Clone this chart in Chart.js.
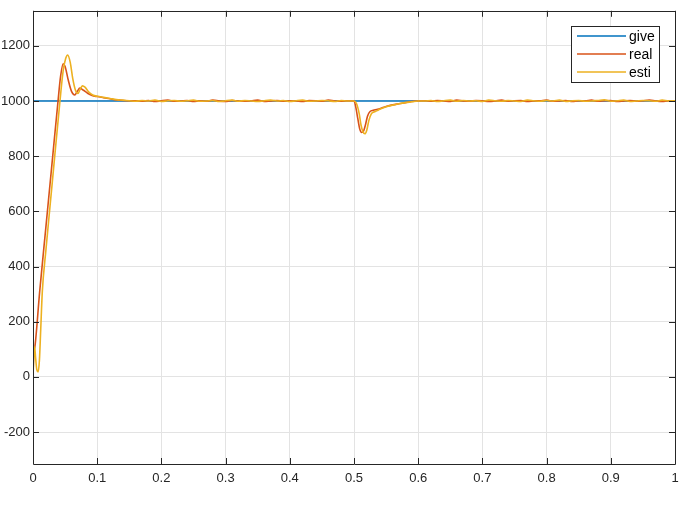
<!DOCTYPE html>
<html>
<head>
<meta charset="utf-8">
<script src="https://cdn.jsdelivr.net/npm/chart.js@4/dist/chart.umd.min.js"></script>
<style>
  html, body { margin: 0; padding: 0; background: #fff; }
  #wrap { width: 692px; height: 509px; }
</style>
</head>
<body>
<div id="wrap"><canvas id="grafico" width="692" height="509"></canvas></div>
<script>
// Dados (tempo em s, velocidade)
const giveT = [0, 1];
const giveY = [1000, 1000];

// partida
const realRiseT = [0, 0.001, 0.003, 0.0104, 0.02, 0.03, 0.039, 0.043, 0.047, 0.05, 0.055, 0.06, 0.065, 0.069, 0.073, 0.078, 0.085, 0.092, 0.1, 0.11, 0.12, 0.13, 0.14, 0.15];
const realRiseY = [0, 80, 110, 309, 541, 783, 1000, 1090, 1135, 1125, 1075, 1035, 1022, 1035, 1047, 1040, 1028, 1020, 1016, 1012, 1008, 1004, 1002, 1001];
const estiRiseT = [0, 0.001, 0.0025, 0.004, 0.006, 0.008, 0.01, 0.012, 0.0145, 0.02, 0.03, 0.042, 0.047, 0.051, 0.054, 0.058, 0.062, 0.066, 0.07, 0.073, 0.077, 0.081, 0.087, 0.093, 0.1, 0.11, 0.12, 0.13, 0.14, 0.15];
const estiRiseY = [0, 60, 110, 70, 25, 18, 60, 170, 309, 457, 704, 1000, 1110, 1155, 1167, 1140, 1080, 1040, 1027, 1040, 1055, 1050, 1032, 1022, 1017, 1013, 1009, 1005, 1003, 1001];

// regime permanente 1
const steadyT1 = [0.16, 0.17, 0.18, 0.19, 0.2, 0.21, 0.22, 0.23, 0.24, 0.25, 0.26, 0.27, 0.28, 0.29, 0.3, 0.31, 0.32, 0.33, 0.34, 0.35, 0.36, 0.37, 0.38, 0.39, 0.4, 0.41, 0.42, 0.43, 0.44, 0.45, 0.46, 0.47, 0.48, 0.49];
const realSteady1 = [1001, 999, 1002, 998, 1001, 1003, 999, 1000, 1002, 998, 1001, 999, 1003, 1000, 998, 1002, 1000, 999, 1001, 1003, 998, 1000, 1002, 999, 1001, 1000, 998, 1002, 1001, 999, 1003, 1000, 999, 1001];
const estiSteady1 = [999, 1002, 1000, 1003, 998, 1001, 1002, 999, 1001, 1003, 999, 1000, 1002, 998, 1001, 1003, 999, 1002, 1000, 998, 1001, 1003, 1000, 1002, 998, 1001, 1003, 999, 1000, 1002, 1001, 998, 1002, 1000];

// degrau de carga em 0.5 s
const realDipT = [0.5, 0.503, 0.506, 0.509, 0.512, 0.515, 0.518, 0.521, 0.525, 0.53, 0.535, 0.54, 0.55, 0.56, 0.57, 0.58, 0.59, 0.6];
const realDipY = [1000, 975, 935, 898, 886, 892, 915, 945, 962, 966, 969, 972, 980, 986, 990, 994, 998, 1000];
const estiDipT = [0.5, 0.504, 0.508, 0.511, 0.514, 0.517, 0.52, 0.523, 0.527, 0.531, 0.536, 0.54, 0.55, 0.56, 0.57, 0.58, 0.59, 0.6];
const estiDipY = [1000, 990, 955, 912, 888, 881, 895, 928, 953, 960, 965, 970, 979, 985, 990, 994, 997, 1000];

// regime permanente 2
const steadyT2 = [0.61, 0.62, 0.63, 0.64, 0.65, 0.66, 0.67, 0.68, 0.69, 0.7, 0.71, 0.72, 0.73, 0.74, 0.75, 0.76, 0.77, 0.78, 0.79, 0.8, 0.81, 0.82, 0.83, 0.84, 0.85, 0.86, 0.87, 0.88, 0.89, 0.9, 0.91, 0.92, 0.93, 0.94, 0.95, 0.96, 0.97, 0.98, 0.99, 1.0];
const realSteady2 = [1001, 999, 1002, 1000, 998, 1003, 1000, 999, 1002, 1001, 998, 1000, 1003, 999, 1001, 1002, 998, 1000, 1001, 1003, 999, 1000, 1002, 998, 1001, 1000, 1003, 999, 1001, 1002, 998, 1000, 1002, 999, 1001, 1003, 1000, 998, 1001, 1000];
const estiSteady2 = [1000, 1002, 998, 1001, 1003, 999, 1002, 1000, 1001, 998, 1003, 1001, 999, 1002, 1000, 998, 1003, 1001, 999, 1002, 1000, 1003, 998, 1001, 1002, 999, 1000, 1002, 1004, 999, 1001, 1003, 998, 1000, 1002, 1001, 999, 1003, 1000, 1001];

const xTicks = [0, 0.1, 0.2, 0.3, 0.4, 0.5, 0.6, 0.7, 0.8, 0.9, 1];
const yTicks = [-200, 0, 200, 400, 600, 800, 1000, 1200];

function pontos(ts, ys) {
    return ts.map((t, i) => ({ x: t, y: ys[i] }));
}

const realData = [].concat(
    pontos(realRiseT, realRiseY), pontos(steadyT1, realSteady1),
    pontos(realDipT, realDipY), pontos(steadyT2, realSteady2));
const estiData = [].concat(
    pontos(estiRiseT, estiRiseY), pontos(steadyT1, estiSteady1),
    pontos(estiDipT, estiDipY), pontos(steadyT2, estiSteady2));

const corEixo = '#262626';
const familia = '"Liberation Sans", Arial, sans-serif';

// caixa do eixo e marcas para dentro (estilo MATLAB) + legenda
const caixaPlugin = {
    id: 'caixa',
    afterDatasetsDraw(chart) {
        const { ctx, chartArea: a, scales } = chart;
        ctx.save();
        ctx.strokeStyle = corEixo;
        ctx.lineWidth = 1;
        ctx.beginPath();
        ctx.rect(Math.round(a.left) + 0.5, Math.round(a.top) + 0.5,
                 Math.round(a.right - a.left), Math.round(a.bottom - a.top));
        ctx.stroke();
        const tl = 6;
        ctx.beginPath();
        xTicks.forEach(v => {
            const px = Math.round(scales.x.getPixelForValue(v)) + 0.5;
            ctx.moveTo(px, a.bottom); ctx.lineTo(px, a.bottom - tl);
            ctx.moveTo(px, a.top); ctx.lineTo(px, a.top + tl);
        });
        yTicks.forEach(v => {
            const py = Math.round(scales.y.getPixelForValue(v)) + 0.5;
            ctx.moveTo(a.left, py); ctx.lineTo(a.left + tl, py);
            ctx.moveTo(a.right, py); ctx.lineTo(a.right - tl, py);
        });
        ctx.stroke();

        // legenda
        const lx = 571.5, ly = 26.5, lw = 88, lh = 56;
        ctx.fillStyle = '#fff';
        ctx.fillRect(lx, ly, lw, lh);
        ctx.strokeStyle = corEixo;
        ctx.strokeRect(lx, ly, lw, lh);
        ctx.font = '14px ' + familia;
        ctx.textBaseline = 'middle';
        ctx.textAlign = 'left';
        chart.data.datasets.forEach((ds, i) => {
            const yy = 36 + i * 18;
            ctx.strokeStyle = ds.borderColor;
            ctx.lineWidth = 1.5;
            ctx.beginPath();
            ctx.moveTo(577, yy); ctx.lineTo(626, yy);
            ctx.stroke();
            ctx.fillStyle = '#000';
            ctx.fillText(ds.label, 629, yy + 1);
        });
        ctx.restore();
    }
};

const ctx = document.getElementById('grafico').getContext('2d');
const chart = new Chart(ctx, {
    type: 'line',
    data: {
        datasets: [{
            label: 'give',
            data: pontos(giveT, giveY),
            borderColor: '#0072BD',
            borderWidth: 1.6,
            pointRadius: 0,
            order: 2
        }, {
            label: 'real',
            data: realData,
            borderColor: '#D95319',
            borderWidth: 1.6,
            pointRadius: 0,
            cubicInterpolationMode: 'monotone',
            order: 1
        }, {
            label: 'esti',
            data: estiData,
            borderColor: '#EDB120',
            borderWidth: 1.6,
            pointRadius: 0,
            cubicInterpolationMode: 'monotone',
            order: 0
        }]
    },
    options: {
        responsive: false,
        animation: false,
        layout: { padding: { top: 10, right: 17, left: 0, bottom: 0 } },
        plugins: {
            legend: { display: false },
            tooltip: { enabled: false }
        },
        scales: {
            x: {
                type: 'linear',
                min: 0,
                max: 1,
                afterFit: s => { s.height = 45; },
                afterBuildTicks: s => { s.ticks = xTicks.map(v => ({ value: v })); },
                grid: { color: '#e3e3e3', drawTicks: false },
                border: { display: false },
                ticks: {
                    padding: 7,
                    color: corEixo,
                    font: { family: familia, size: 13 },
                    maxRotation: 0,
                    callback: v => String(Number(v.toFixed(1)))
                }
            },
            y: {
                type: 'linear',
                min: -316,
                max: 1327,
                afterFit: s => { s.width = 33; },
                afterBuildTicks: s => { s.ticks = yTicks.map(v => ({ value: v })); },
                grid: { color: '#e3e3e3', drawTicks: false },
                border: { display: false },
                ticks: {
                    padding: 3,
                    color: corEixo,
                    font: { family: familia, size: 13 },
                    callback: v => String(v)
                }
            }
        }
    },
    plugins: [caixaPlugin]
});
</script>
</body>
</html>
